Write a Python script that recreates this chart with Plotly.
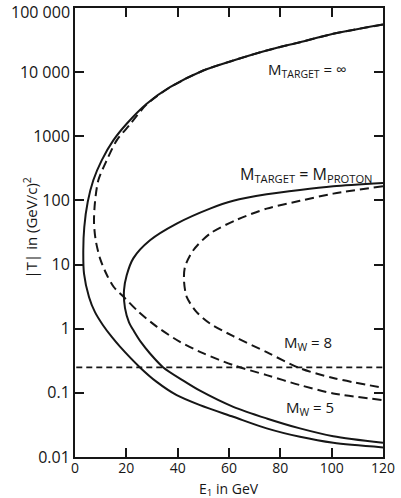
import plotly.graph_objects as go

# ---- data (E1 in GeV, |T| in (GeV/c)^2) ----
# M_TARGET = infinity, M_W = 5 (solid), ordered: upper branch -> vertex -> lower branch
inf5_E = [120, 100.6, 87.65, 74.68, 61.67, 49.98, 37.0, 27.93, 20.14, 14.92, 10.40, 7.13, 4.95,
          3.62, 3.23, 3.51, 5.45, 7.79, 10.91, 14.41, 17.53, 25.32, 31.83, 39.62, 48.7, 61.67,
          74.68, 87.65, 100.6, 120]
inf5_T = [55340, 39630, 29310, 21780, 15210, 10620, 5840, 3220, 1571, 863, 422, 206, 94.4,
          38.5, 16.7, 7.24, 3.13, 1.81, 1.134, 0.737, 0.525, 0.249, 0.148, 0.092, 0.0643, 0.0423,
          0.0279, 0.0206, 0.0166, 0.0141]

# M_TARGET = infinity, M_W = 8 (dashed)
inf8_E = [120, 100.6, 87.65, 74.68, 61.67, 49.98, 37.0, 27.93, 21.43, 16.25, 12.35, 9.08, 7.79,
          7.40, 8.06, 9.74, 12.47, 15.19, 19.48, 24.54, 31.95, 40.91, 49.87, 61.67, 74.68, 87.65,
          100.6, 120]
inf8_T = [55340, 39630, 29310, 21780, 15210, 10620, 5800, 3150, 1531, 863, 422, 206, 94.4,
          45.6, 24.0, 12.5, 6.81, 4.43, 2.99, 1.87, 1.07, 0.623, 0.415, 0.270, 0.189, 0.132,
          0.098, 0.077]

# M_TARGET = M_PROTON, M_W = 5 (solid)
p5_E = [120, 100.6, 87.65, 74.68, 61.67, 52.6, 39.62, 29.22, 22.71, 20.14, 19.09, 19.48, 21.04,
        22.98, 25.71, 29.22, 34.40, 42.19, 48.7, 61.67, 74.68, 87.65, 100.6, 120]
p5_T = [186.6, 166, 146, 124.5, 98.6, 74.5, 43.5, 23.9, 12.5, 6.81, 3.98, 2.09, 1.26,
        0.914, 0.616, 0.411, 0.249, 0.155, 0.108, 0.0605, 0.0399, 0.0279, 0.0211, 0.0166]

# M_TARGET = M_PROTON, M_W = 8 (dashed)
p8_E = [120, 100.6, 87.65, 74.68, 63.0, 52.6, 46.09, 42.85, 42.46, 43.52, 47.41, 52.6, 61.67,
        74.68, 87.65, 100.6, 120]
p8_T = [166, 127.6, 98.6, 74.5, 49.9, 30.4, 16.7, 9.18, 5.69, 3.13, 1.81, 1.205, 0.764,
        0.430, 0.242, 0.170, 0.120]

# horizontal short-dashed line
hline_E = [0.5, 120]
hline_T = [0.25, 0.25]

x_ticks = [0, 20, 40, 60, 80, 100, 120]
y_ticks = [0.01, 0.1, 1, 10, 100, 1000, 10000]
y_ticktext = ["0.01", "0.1", "1", "10", "100", "1000", "10 000"]
y_top_label = "100 000"   # top tick label, placed so it stays inside the page

INK = "#161616"
FONT = "Open Sans"

fig = go.Figure()
for E, T, dash in [(inf5_E, inf5_T, "solid"), (p5_E, p5_T, "solid"),
                   (inf8_E, inf8_T, "9px,5px"), (p8_E, p8_T, "9px,5px")]:
    fig.add_trace(go.Scatter(x=E, y=T, mode="lines",
                             line=dict(color=INK, width=2, dash=dash, shape="spline", smoothing=0.8),
                             showlegend=False, hoverinfo="skip"))
fig.add_trace(go.Scatter(x=hline_E, y=hline_T, mode="lines",
                         line=dict(color=INK, width=1.8, dash="6px,4px"),
                         showlegend=False, hoverinfo="skip"))

ann_font = dict(family=FONT, size=15, color=INK)
fig.add_annotation(x=90.4, y=4.03, xref="x", yref="y", text="M<sub>TARGET</sub> = ∞",
                   showarrow=False, font=ann_font)
fig.add_annotation(x=90.2, y=2.40, xref="x", yref="y", text="M<sub>TARGET</sub> = M<sub>PROTON</sub>",
                   showarrow=False, font=dict(family=FONT, size=16, color=INK))
fig.add_annotation(x=90.8, y=-0.22, xref="x", yref="y", text="M<sub>W</sub> = 8",
                   showarrow=False, font=ann_font)
fig.add_annotation(x=91.6, y=-1.23, xref="x", yref="y", text="M<sub>W</sub> = 5",
                   showarrow=False, font=ann_font)
# top y tick label
fig.add_annotation(x=-0.013, y=1.0178, xref="paper", yref="paper", xanchor="right",
                   yanchor="top", text=y_top_label, showarrow=False, borderpad=0,
                   font=dict(family=FONT, size=16, color=INK))
# axis titles placed as in the reference
fig.add_annotation(x=-0.146, y=0.509, xref="paper", yref="paper", xanchor="center",
                   yanchor="middle", textangle=-90,
                   text="|T| in (GeV/c)<sup>2</sup>", showarrow=False,
                   font=dict(family=FONT, size=15, color=INK))
fig.add_annotation(x=0.5, y=-0.0712, xref="paper", yref="paper", xanchor="center",
                   yanchor="middle", text="E<sub>1</sub> in GeV", showarrow=False,
                   borderpad=0, height=16, font=dict(family=FONT, size=14, color=INK))

fig.update_xaxes(range=[0, 120], tickvals=x_ticks, ticks="inside", ticklen=9, tickwidth=1.5,
                 tickcolor=INK, showline=True, linecolor=INK, linewidth=2, mirror="ticks",
                 showgrid=False, zeroline=False, ticklabeloverflow="allow", automargin=False,
                 ticklabelstandoff=-3,
                 tickfont=dict(family=FONT, size=14, color=INK))
fig.update_yaxes(type="log", range=[-2.0005, 5.0005], tickvals=y_ticks, ticktext=y_ticktext,
                 ticks="inside", ticklen=9, tickwidth=1.5, tickcolor=INK,
                 showline=True, linecolor=INK, linewidth=2, mirror="ticks",
                 showgrid=False, zeroline=False, ticklabeloverflow="allow", automargin=False,
                 tickfont=dict(family=FONT, size=16, color=INK))
fig.update_layout(width=401, height=498, margin=dict(l=75, r=18, t=8, b=41, autoexpand=False),
                  paper_bgcolor="white", plot_bgcolor="white")
fig.write_html("out.html")
